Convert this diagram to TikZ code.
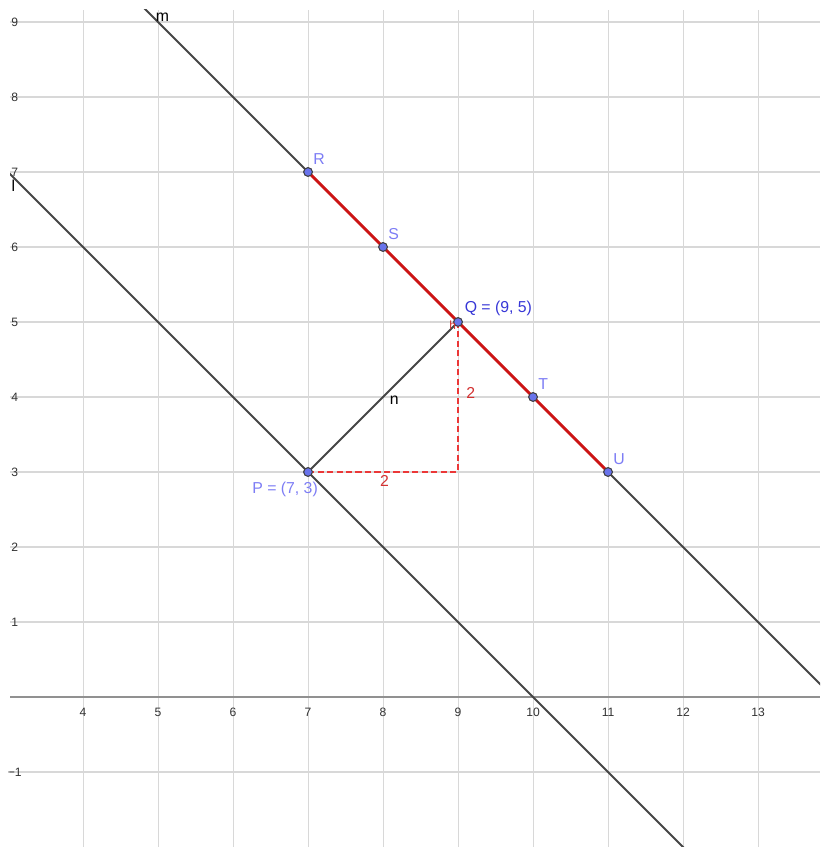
\documentclass[tikz,border=0pt]{standalone}
\usepackage{fontspec}
\setmainfont{Liberation Sans}
\usetikzlibrary{positioning}
\definecolor{cGrid}{RGB}{216,216,216}
\definecolor{cAxis}{RGB}{145,145,145}
\definecolor{cLine}{RGB}{70,70,70}
\definecolor{cRed}{RGB}{205,20,20}
\definecolor{cDash}{RGB}{235,55,55}
\definecolor{cPt}{RGB}{105,115,235}
\definecolor{cLbl}{RGB}{125,125,245}
\definecolor{cQ}{RGB}{55,55,215}
\tikzset{
	gridline/.style={draw=cGrid, line width=0.4pt},
	axisline/.style={draw=cAxis, line width=0.8pt},
	ticklbl/.style ={font=\fontsize{4.6}{5}\selectfont, text=black!80, inner sep=0.5pt},
	infline/.style ={draw=cLine, line width=0.75pt},
	redseg/.style  ={draw=cRed, line width=1.1pt},
	reddash/.style ={draw=cDash, line width=0.6pt, dash pattern=on 2.3pt off 1.3pt},
	ptdot/.style   ={circle, fill=cPt, draw=black!75, line width=0.35pt, minimum size=1.15mm, inner sep=0pt},
	ptlbl/.style   ={font=\fontsize{6}{7}\selectfont, text=cLbl, inner sep=0.5pt},
	linelbl/.style ={font=\fontsize{6}{7}\selectfont, text=black, inner sep=0.5pt},
	redlbl/.style  ={font=\fontsize{6}{7}\selectfont, text=cDash!90!black, inner sep=0.5pt},
}
\begin{document}
\begin{tikzpicture}[x=1cm, y=1cm]
	\useasboundingbox[fill=white] (2.893,-2.0) rectangle (13.827,9.293);
	\begin{scope}
		\clip (3.027,-2.0) rectangle (13.827,9.16);
		% grid
		\foreach \x in {4,...,13}
			\draw[gridline] (\x,-2.0) -- (\x,9.16);
		\foreach \y in {-1,...,9}
			\draw[gridline] (3.027,\y) -- (13.827,\y);
		% x axis
		\draw[axisline] (3.027,0) -- (13.827,0);
		% lines l and m
		\coordinate (lA) at (2,8);
		\coordinate (lB) at (13,-3);
		\coordinate (mA) at (4,10);
		\coordinate (mB) at (15,-1);
		\draw[infline] (lA) -- (lB);
		\draw[infline] (mA) -- (mB);
	\end{scope}
	% tick labels
	\foreach \x in {4,...,13}
		\node[ticklbl] at (\x,-0.2) {\x};
	\foreach \y in {1,...,9}
		\node[ticklbl] at (3.09,\y) {\y};
	\node[ticklbl] at (3.09,-1) {−1};
	% points
	\node[ptdot] (P) at (7,3) {};
	\node[ptdot] (Q) at (9,5) {};
	\node[ptdot] (R) at (7,7) {};
	\node[ptdot] (S) at (8,6) {};
	\node[ptdot] (T) at (10,4) {};
	\node[ptdot] (U) at (11,3) {};
	\coordinate (C) at (9,3);
	% segments
	\draw[infline, line width=0.7pt] (P.center) -- (Q.center);
	\draw[reddash] (P.center) -- (C) -- (Q.center);
	\draw[redseg] (R.center) -- (U.center);
	% redraw points on top
	\foreach \p in {P,Q,R,S,T,U}
		\node[ptdot] at (\p) {};
	% labels
	\foreach \p in {R,S,T,U}
		\node[ptlbl, above right=0.03cm and 0cm of \p] {\p};
	\node[ptlbl, text=cQ, above right=0.01cm and 0.02cm of Q] {Q = (9, 5)};
	\node[ptlbl, below left=0.06cm and -0.2cm of P] {P = (7, 3)};
	\node[linelbl] (lblm) at (5.06,9.06) {m};
	\node[linelbl] (lbll) at (3.07,6.81) {l};
	\node[linelbl] (lbln) at (8.15,3.96) {n};
	\node[redlbl] (lblh) at (8.93,4.96) {\fontsize{4.5}{5}\selectfont h};
	\node[redlbl] (lblx) at (8.02,2.88) {2};
	\node[redlbl] (lbly) at (9.17,4.05) {2};
\end{tikzpicture}
\end{document}
